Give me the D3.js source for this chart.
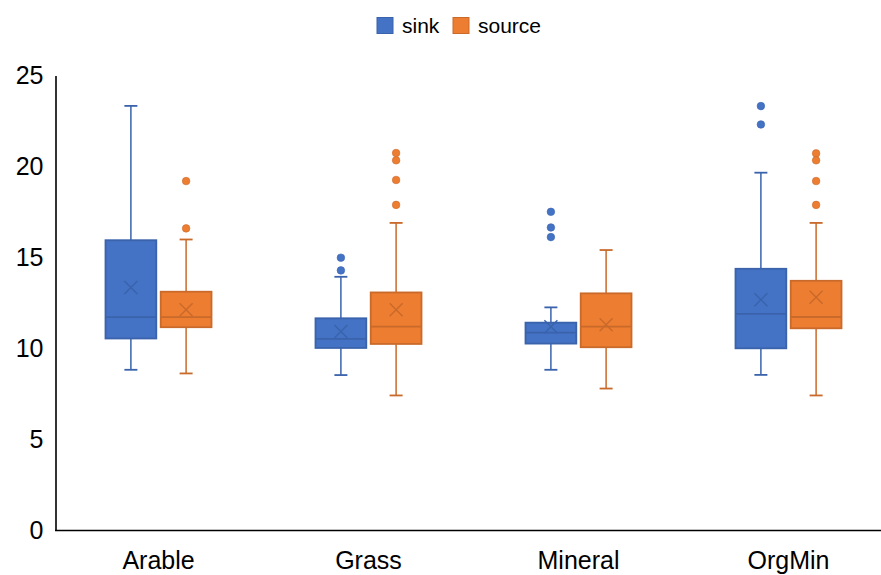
<!DOCTYPE html>
<html>
<head>
<meta charset="utf-8">
<script src="https://cdn.jsdelivr.net/npm/d3@7"></script>
<style>
  html, body { margin: 0; padding: 0; background: #fff; }
  svg { display: block; font-family: "Liberation Sans", Arial, sans-serif; }
</style>
</head>
<body>
<svg id="chart" width="881" height="575"></svg>
<script>
const categories = ["Arable", "Grass", "Mineral", "OrgMin"];
const seriesNames = ["sink", "source"];
const yTicks = [0, 5, 10, 15, 20, 25];

const sinkLow    = [8.83, 8.54, 8.83, 8.55];
const sinkQ1     = [10.55, 10.03, 10.27, 10.01];
const sinkMedian = [11.72, 10.53, 10.87, 11.90];
const sinkQ3     = [15.95, 11.66, 11.42, 14.38];
const sinkHigh   = [23.33, 13.94, 12.26, 19.66];
const sinkMean   = [13.35, 10.93, 11.20, 12.68];
const sinkOutliers = [[], [14.99, 14.29], [17.51, 16.65, 16.12], [23.32, 22.31]];

const sourceLow    = [8.63, 7.42, 7.80, 7.42];
const sourceQ1     = [11.17, 10.25, 10.07, 11.11];
const sourceMedian = [11.72, 11.20, 11.20, 11.73];
const sourceQ3     = [13.12, 13.08, 13.03, 13.72];
const sourceHigh   = [15.99, 16.90, 15.41, 16.90];
const sourceMean   = [12.13, 12.13, 11.31, 12.81];
const sourceOutliers = [[19.20, 16.60], [20.74, 20.34, 19.26, 17.89], [], [20.72, 20.34, 19.20, 17.89]];

const fills = { sink: "#4472C4", source: "#ED7D31" };
const strokes = { sink: "#3A63AC", source: "#C96A2B" };

const svg = d3.select("#chart");

const y = d3.scaleLinear().domain([0, 25]).range([530.5, 75.5]);
const x = d3.scaleBand().domain(categories).range([53.5, 893.5]);
const xs = d3.scaleBand().domain(seriesNames).range([-53, 53]).paddingInner(0.08).paddingOuter(0);

// axes
const yAxis = d3.axisLeft(y).tickValues(yTicks).tickSize(0).tickPadding(12);
const gy = svg.append("g").attr("transform", "translate(55.5,0)").call(yAxis);
gy.select(".domain").attr("stroke", "#000").attr("stroke-width", 1.6);
gy.selectAll("text").attr("font-size", 25).attr("fill", "#000")
  .attr("font-family", '"Liberation Sans", Arial, sans-serif');

const xAxis = d3.axisBottom(x).tickSize(0).tickPadding(20);
const gx = svg.append("g").attr("transform", "translate(0,530.5)").call(xAxis);
gx.select(".domain").remove();
gx.append("line").attr("x1", 55).attr("x2", 881).attr("y1", 0).attr("y2", 0)
  .attr("stroke", "#000").attr("stroke-width", 1.6);
gx.selectAll(".tick text").attr("font-size", 25).attr("fill", "#000").attr("dy", null)
  .attr("y", 38.5)
  .attr("font-family", '"Liberation Sans", Arial, sans-serif');

const series = [
  { name: "sink", low: sinkLow, q1: sinkQ1, med: sinkMedian, q3: sinkQ3, high: sinkHigh, mean: sinkMean, out: sinkOutliers },
  { name: "source", low: sourceLow, q1: sourceQ1, med: sourceMedian, q3: sourceQ3, high: sourceHigh, mean: sourceMean, out: sourceOutliers }
];

const bw = xs.bandwidth();
const capHalf = 6.5;
series.forEach(s => {
  const g = svg.append("g");
  categories.forEach((c, i) => {
    const cx = x(c) + x.bandwidth() / 2 + xs(s.name) + bw / 2;
    const st = strokes[s.name];
    // whiskers
    g.append("line").attr("x1", cx).attr("x2", cx).attr("y1", y(s.high[i])).attr("y2", y(s.q3[i]))
      .attr("stroke", st).attr("stroke-width", 1.5);
    g.append("line").attr("x1", cx).attr("x2", cx).attr("y1", y(s.q1[i])).attr("y2", y(s.low[i]))
      .attr("stroke", st).attr("stroke-width", 1.5);
    [s.high[i], s.low[i]].forEach(v => {
      g.append("line").attr("x1", cx - capHalf).attr("x2", cx + capHalf).attr("y1", y(v)).attr("y2", y(v))
        .attr("stroke", st).attr("stroke-width", 1.8);
    });
    // box
    g.append("rect").attr("x", cx - bw / 2).attr("width", bw)
      .attr("y", y(s.q3[i])).attr("height", y(s.q1[i]) - y(s.q3[i]))
      .attr("fill", fills[s.name]).attr("stroke", st).attr("stroke-width", 1.8);
    // median
    g.append("line").attr("x1", cx - bw / 2).attr("x2", cx + bw / 2)
      .attr("y1", y(s.med[i])).attr("y2", y(s.med[i]))
      .attr("stroke", st).attr("stroke-width", 1.8);
    // mean X
    const my = y(s.mean[i]), k = 6.5;
    g.append("path").attr("d", `M${cx - k},${my - k}L${cx + k},${my + k}M${cx - k},${my + k}L${cx + k},${my - k}`)
      .attr("stroke", st).attr("stroke-width", 1.4).attr("fill", "none");
    // outliers
    s.out[i].forEach(v => {
      g.append("circle").attr("cx", cx).attr("cy", y(v)).attr("r", 3.8)
        .attr("fill", fills[s.name]).attr("stroke", st).attr("stroke-width", 0.6);
    });
  });
});

// legend
const legend = svg.append("g");
const legendItems = [{ name: "sink", x: 377 }, { name: "source", x: 453 }];
legendItems.forEach(d => {
  legend.append("rect").attr("x", d.x).attr("y", 17.5).attr("width", 16).attr("height", 16)
    .attr("fill", fills[d.name]).attr("stroke", strokes[d.name]).attr("stroke-width", 1);
  legend.append("text").attr("x", d.x + 25).attr("y", 33).text(d.name)
    .attr("font-size", 21).attr("fill", "#000");
});
</script>
</body>
</html>
